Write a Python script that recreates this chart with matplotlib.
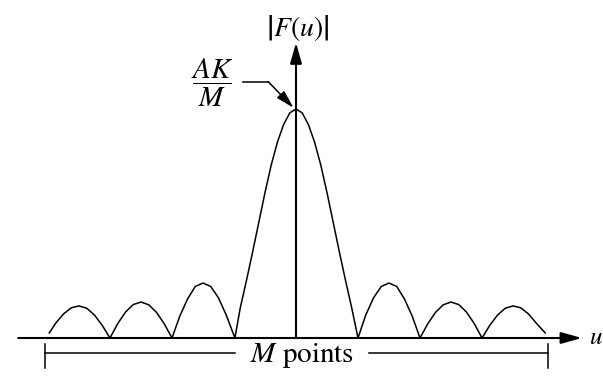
import matplotlib
matplotlib.use("Agg")
import matplotlib.pyplot as plt

plt.rcParams["mathtext.fontset"] = "stix"
plt.rcParams["font.family"] = ["STIXGeneral", "DejaVu Serif"]

# Magnitude spectrum |F(u)| sampled along u (in units of zero spacing),
# normalised so the central peak AK/M equals 1.
u = [-3.98, -3.875, -3.75, -3.625, -3.5, -3.375, -3.25, -3.125, -3.0,
     -2.875, -2.75, -2.625, -2.5, -2.375, -2.25, -2.125, -2.0,
     -1.875, -1.75, -1.625, -1.5, -1.375, -1.25, -1.125, -0.985,
     -0.9, -0.8, -0.7, -0.6, -0.5, -0.4, -0.3, -0.2, -0.1, 0.0,
     0.1, 0.2, 0.3, 0.4, 0.5, 0.6, 0.7, 0.8, 0.9, 1.0,
     1.125, 1.25, 1.375, 1.5, 1.625, 1.75, 1.875, 2.0,
     2.125, 2.25, 2.375, 2.5, 2.625, 2.75, 2.875, 3.0,
     3.125, 3.25, 3.375, 3.5, 3.625, 3.75, 3.875, 4.02]
mag = [0.022, 0.065, 0.105, 0.132, 0.140, 0.130, 0.100, 0.055, 0.0,
       0.063, 0.113, 0.146, 0.157, 0.145, 0.112, 0.062, 0.0,
       0.095, 0.170, 0.225, 0.240, 0.225, 0.175, 0.100, 0.0,
       0.130, 0.250, 0.375, 0.505, 0.635, 0.755, 0.855, 0.932, 0.983, 1.0,
       0.983, 0.932, 0.855, 0.755, 0.635, 0.505, 0.375, 0.250, 0.130, 0.0,
       0.100, 0.175, 0.225, 0.240, 0.225, 0.170, 0.095, 0.0,
       0.062, 0.112, 0.145, 0.157, 0.146, 0.113, 0.063, 0.0,
       0.055, 0.100, 0.130, 0.140, 0.132, 0.105, 0.065, 0.022]

peak_label = r"$\dfrac{AK}{M}$"
y_label = r"$\left|F(u)\right|$"
x_label = r"$u$"
span_label = r"$M$ points"
span = (-4.05, 4.065)          # extent of the M samples along u

fig = plt.figure(figsize=(6.03, 3.77), dpi=100)
ax = fig.add_axes([0, 0, 1, 1])
ax.set_xlim(-296 / 62, 307 / 62)
ax.set_ylim(-39 / 229, 338 / 229)
ax.axis("off")

# spectrum curve
ax.plot(u, mag, color="black", lw=1.1, solid_joinstyle="miter")

# axes with arrow heads
axis_kw = dict(arrowstyle="-|>,head_length=1.25,head_width=0.35",
               color="black", lw=1.5, shrinkA=0, shrinkB=0, mutation_scale=10)
ax.annotate("", xy=(4.61, 0), xytext=(-4.48, 0), arrowprops=axis_kw)
ax.annotate("", xy=(0, 1.29), xytext=(0, 0), arrowprops=axis_kw)
ax.text(4.835, 0.0, x_label, fontsize=18, ha="center", va="center")
ax.text(0.03, 1.355, y_label, fontsize=20, ha="center", va="center")

# peak value label with leader arrow
ax.text(-1.36, 1.115, peak_label, fontsize=21, ha="center", va="center")
ax.plot([-0.855, -0.45], [1.12, 1.12], color="black", lw=1.1)
ax.annotate("", xy=(-0.04, 1.005), xytext=(-0.45, 1.12),
            arrowprops=dict(arrowstyle="-|>,head_length=1.1,head_width=0.3",
                            color="black", lw=1.1, shrinkA=0, shrinkB=0,
                            mutation_scale=10))

# span bracket for the M points
yb = -0.066
ax.plot([span[0], -0.985], [yb, yb], color="black", lw=1.1)
ax.plot([1.18, span[1]], [yb, yb], color="black", lw=1.1)
for x in span:
    ax.plot([x, x], [-0.026, -0.131], color="black", lw=1.1)
ax.text(0.09, -0.078, span_label, fontsize=21, ha="center", va="center")

fig.savefig("out.png", dpi=100)
